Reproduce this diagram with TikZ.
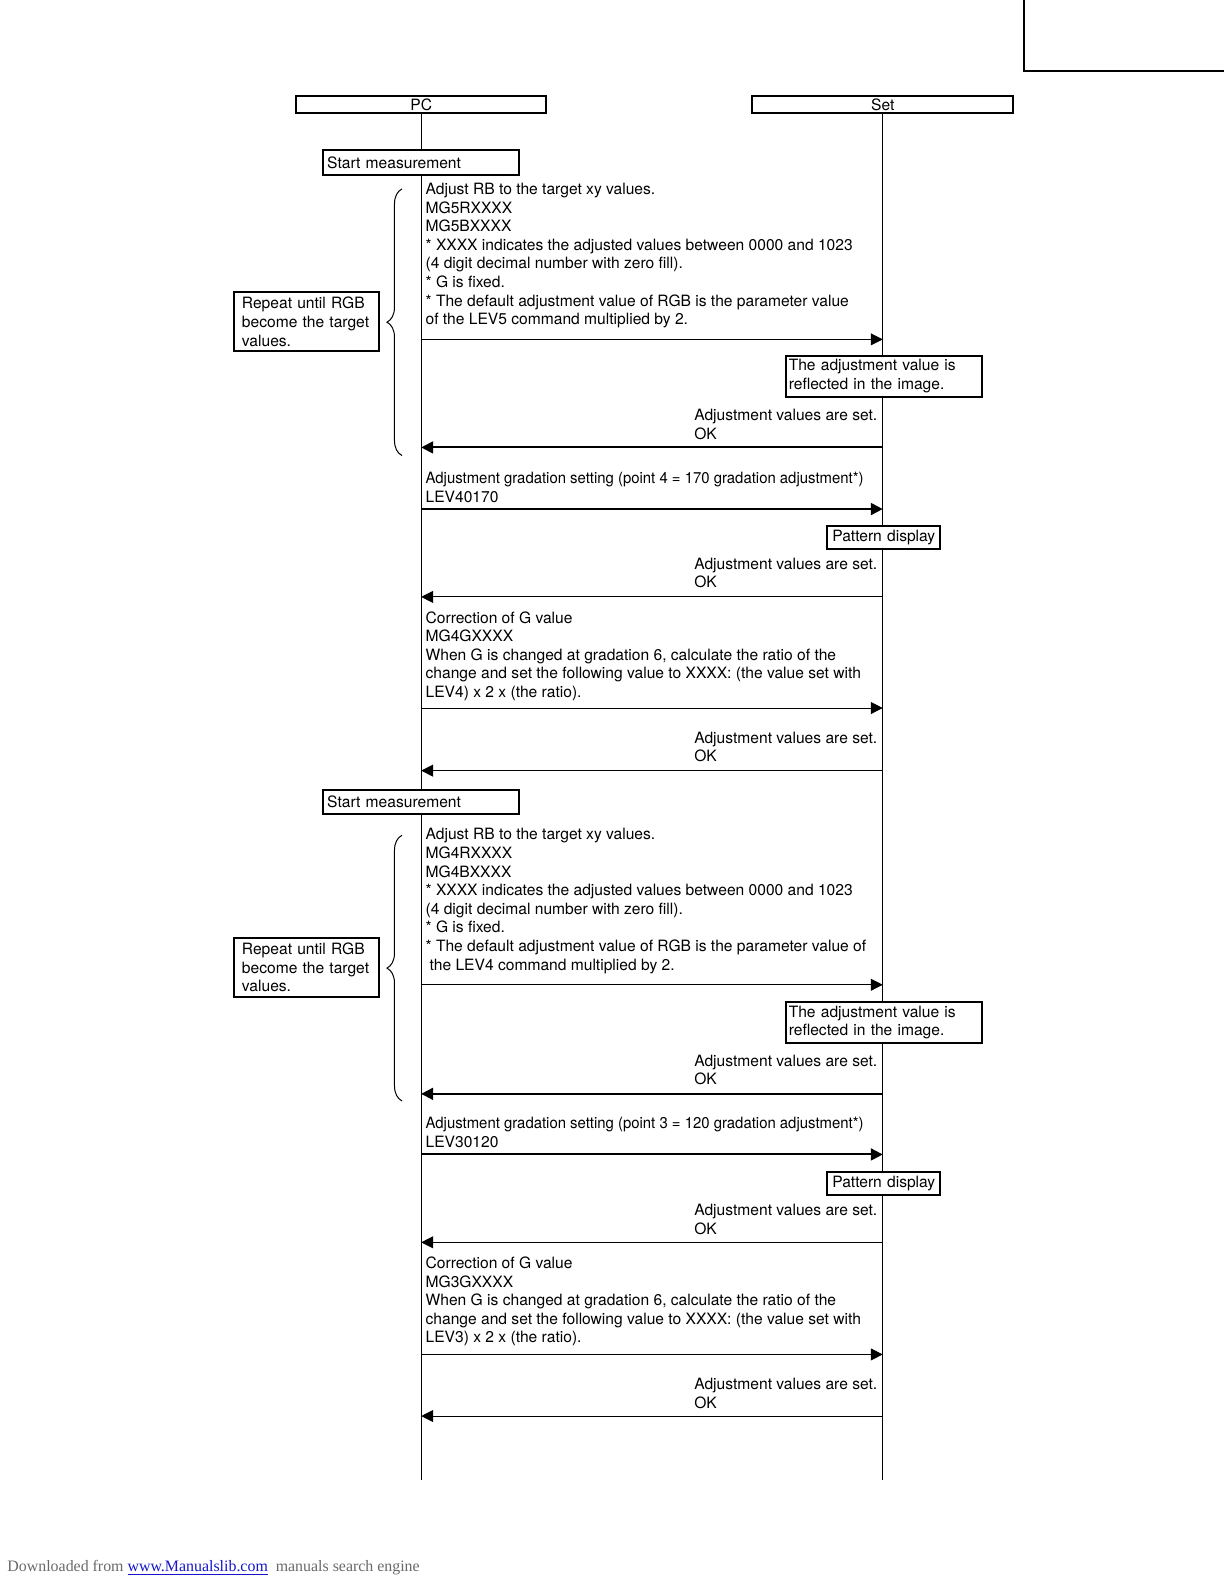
\documentclass[tikz,border=0pt]{standalone}
\usepackage{fontspec}
\setmainfont{TeX Gyre Heros}
\newfontfamily\footfont{Liberation Serif}
\usetikzlibrary{arrows.meta,decorations.pathreplacing}
\definecolor{footgray}{RGB}{105,105,105}
\definecolor{linkblue}{RGB}{20,20,205}

\begin{document}
\begin{tikzpicture}[x=0.505pt, y=-0.505pt,
  font=\fontsize{7.8}{9.3}\selectfont,
  >={Triangle[length=6pt,width=6pt]},
  hdr/.style={draw, fill=white, line width=1pt, inner sep=0pt, minimum width=125.2pt, minimum height=8.6pt},
  msg/.style={anchor=north west, inner sep=0pt, align=left},
  note/.style={draw, fill=white, line width=1pt, anchor=north west, inner ysep=0pt, align=left},
  call/.style={->, line width=0.5pt},
  bigcall/.style={->, line width=1pt}]

\useasboundingbox (0,0) rectangle (1212,1568.3);

% corner mark
\draw[line width=1pt] (1014,0) -- (1014,70) -- (1212,70);

%------------------ LIFELINES ------------------%
\node[hdr] (pc) at (417,103.5) {PC};
\node[hdr, minimum width=130.3pt] (set) at (874,103.5) {Set};
\coordinate (pcEnd) at (417,1465);
\coordinate (setEnd) at (874,1465);
\draw[line width=0.5pt] (pc.south) -- (pcEnd);
\draw[line width=0.5pt] (set.south) -- (setEnd);

% message rows
\foreach \n/\y in {a/336, b/443, c/504, d/591, e/701, f/763,
                   g/975, h/1083, i/1143, j/1230, k/1341, l/1402}{
  \coordinate (pc\n) at (417,\y);
  \coordinate (set\n) at (874,\y);
}

%------------------ FIRST MEASUREMENT ------------------%
\node[note, inner xsep=2pt, text width=94pt, minimum height=12.1pt] (start1) at (319,148) {Start measurement};

\node[msg] (adj1) at (421,181) {Adjust RB to the target xy values.\\
  MG5RXXXX\\
  MG5BXXXX\\
  * XXXX indicates the adjusted values between 0000 and 1023\\
  (4 digit decimal number with zero fill).\\
  * G is fixed.\\
  * The default adjustment value of RGB is the parameter value\\
  of the LEV5 command multiplied by 2.};
\draw[call] (pca) -- (seta);

\node[note, inner xsep=1.5pt, text width=95pt, minimum height=20.7pt] (refl1) at (777,351) {The adjustment value is\\reflected in the image.};
\node[msg] (ok1) at (687,405) {Adjustment values are set.\\OK};
\draw[bigcall] (setb) -- (pcb);

\coordinate (brace1top) at (398,187);
\coordinate (brace1bot) at (398,451);
\draw[line width=0.5pt, decorate, decoration={brace, amplitude=7.5pt}] (brace1bot) -- (brace1top);
\node[note, anchor=center, inner xsep=3.8pt, text width=64.6pt, minimum height=29.8pt] (rep1) at (303.5,318.5) {Repeat until RGB\\become the target\\values.};

\node[msg] (grad1) at (421,467) {\scalebox{0.955}[1]{Adjustment gradation setting (point 4 = 170 gradation adjustment*)}\\LEV40170};
\draw[bigcall] (pcc) -- (setc);

\node[note, inner xsep=2pt, text width=52.6pt, align=center, minimum height=11.6pt] (pat1) at (818,520) {Pattern display};
\node[msg] (ok2) at (687,552) {Adjustment values are set.\\OK};
\draw[call] (setd) -- (pcd);

\node[msg] (corr1) at (421,605) {Correction of G value\\
  MG4GXXXX\\
  When G is changed at gradation 6, calculate the ratio of the\\
  change and set the following value to XXXX: (the value set with\\
  LEV4) x 2 x (the ratio).};
\draw[call] (pce) -- (sete);

\node[msg] (ok3) at (687,724) {Adjustment values are set.\\OK};
\draw[call] (setf) -- (pcf);

%------------------ SECOND MEASUREMENT ------------------%
\node[note, inner xsep=2pt, text width=94pt, minimum height=12.1pt] (start2) at (319,781) {Start measurement};

\node[msg] (adj2) at (421,820) {Adjust RB to the target xy values.\\
  MG4RXXXX\\
  MG4BXXXX\\
  * XXXX indicates the adjusted values between 0000 and 1023\\
  (4 digit decimal number with zero fill).\\
  * G is fixed.\\
  * The default adjustment value of RGB is the parameter value of\\
  \hspace*{2pt}the LEV4 command multiplied by 2.};
\draw[call] (pcg) -- (setg);

\node[note, inner xsep=1.5pt, text width=95pt, minimum height=20.7pt] (refl2) at (777,991) {The adjustment value is\\reflected in the image.};
\node[msg] (ok4) at (687,1044) {Adjustment values are set.\\OK};
\draw[bigcall] (seth) -- (pch);

\coordinate (brace2top) at (398,827);
\coordinate (brace2bot) at (398,1090);
\draw[line width=0.5pt, decorate, decoration={brace, amplitude=7.5pt}] (brace2bot) -- (brace2top);
\node[note, anchor=center, inner xsep=3.8pt, text width=64.6pt, minimum height=29.8pt] (rep2) at (303.5,958) {Repeat until RGB\\become the target\\values.};

\node[msg] (grad2) at (421,1106) {\scalebox{0.955}[1]{Adjustment gradation setting (point 3 = 120 gradation adjustment*)}\\LEV30120};
\draw[bigcall] (pci) -- (seti);

\node[note, inner xsep=2pt, text width=52.6pt, align=center, minimum height=11.6pt] (pat2) at (818,1159) {Pattern display};
\node[msg] (ok5) at (687,1192) {Adjustment values are set.\\OK};
\draw[call] (setj) -- (pcj);

\node[msg] (corr2) at (421,1244) {Correction of G value\\
  MG3GXXXX\\
  When G is changed at gradation 6, calculate the ratio of the\\
  change and set the following value to XXXX: (the value set with\\
  LEV3) x 2 x (the ratio).};
\draw[call] (pck) -- (setk);

\node[msg] (ok6) at (687,1364) {Adjustment values are set.\\OK};
\draw[call] (setl) -- (pcl);

% footer
\node[anchor=base west, inner sep=0pt, font=\footfont\fontsize{7.95}{9.5}\selectfont, text=footgray] (foot) at (7,1556)
  {Downloaded from \textcolor{linkblue}{\underline{www.Manualslib.com}}\ \ manuals search engine};

\end{tikzpicture}
\end{document}
